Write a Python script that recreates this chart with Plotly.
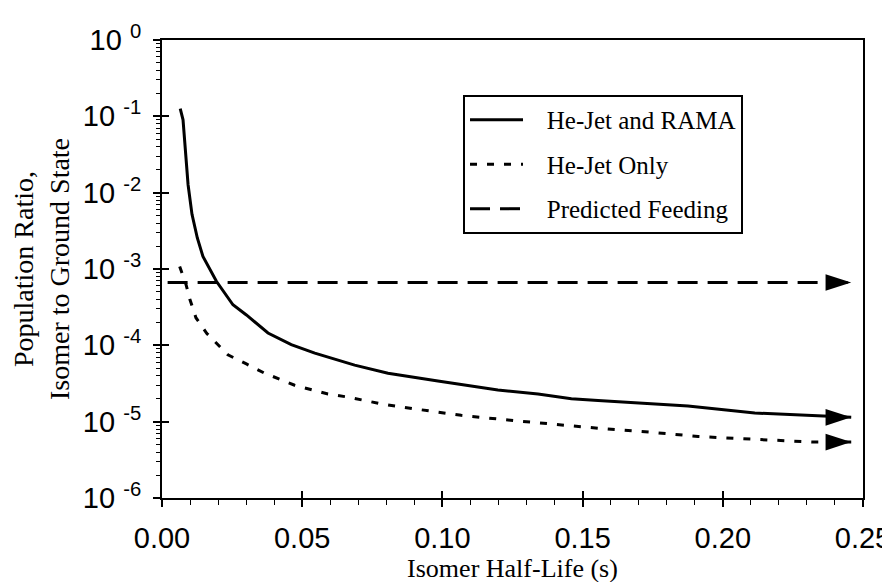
import plotly.graph_objects as go

# ---- data ----
rama_halflife = [0.0065, 0.0075, 0.0093, 0.0107, 0.0126, 0.0146, 0.0194, 0.0253, 0.0301,
                 0.0378, 0.0461, 0.0545, 0.0687, 0.0806, 0.0984, 0.1198, 0.1341, 0.146,
                 0.1555, 0.1876, 0.2114, 0.2375, 0.2458]
rama_ratio = [0.126, 0.090, 0.0127, 5.2e-3, 2.55e-3, 1.46e-3, 6.9e-4, 3.4e-4, 2.5e-4,
              1.45e-4, 1.02e-4, 7.9e-5, 5.5e-5, 4.3e-5, 3.4e-5, 2.6e-5, 2.3e-5, 2.0e-5,
              1.9e-5, 1.6e-5, 1.3e-5, 1.17e-5, 1.14e-5]

jet_halflife = [0.0063, 0.0086, 0.0099, 0.0121, 0.016, 0.020, 0.0235, 0.0301, 0.0364,
                0.0473, 0.0592, 0.0663, 0.0782, 0.0895, 0.1067, 0.1258, 0.1436, 0.1555,
                0.1739, 0.1912, 0.2102, 0.2328, 0.2458]
jet_ratio = [1.08e-3, 6.2e-4, 4.05e-4, 2.3e-4, 1.43e-4, 1.02e-4, 7.5e-5, 5.7e-5, 4.35e-5,
             3.0e-5, 2.3e-5, 2.1e-5, 1.71e-5, 1.48e-5, 1.21e-5, 1.03e-5, 9.0e-6, 8.2e-6,
             7.3e-6, 6.4e-6, 5.9e-6, 5.4e-6, 5.4e-6]

feed_halflife = [0.002, 0.2458]
feed_ratio = [6.65e-4, 6.65e-4]

series_names = ["He-Jet and RAMA", "He-Jet Only", "Predicted Feeding"]

x_tickvals = [0.00, 0.05, 0.10, 0.15, 0.20, 0.25]
x_ticktext = ["0.00", "0.05", "0.10", "0.15", "0.20", "0.25"]
y_tickvals = [1e-6, 1e-5, 1e-4, 1e-3, 1e-2, 1e-1, 1e0]
y_ticktext = ["10 <sup>-6</sup>", "10 <sup>-5</sup>", "10 <sup>-4</sup>", "10 <sup>-3</sup>",
              "10 <sup>-2</sup>", "10 <sup>-1</sup>", "10 <sup>0</sup>"]

x_title = "Isomer Half-Life (s)"
y_title = "Population Ratio,<br>Isomer to Ground State"

# ---- figure ----
fig = go.Figure()
styles = [dict(dash="solid", width=3),
          dict(dash="7px,10px", width=3),
          dict(dash="20px,10px", width=3)]
datasets = [(rama_halflife, rama_ratio), (jet_halflife, jet_ratio), (feed_halflife, feed_ratio)]

lead = "\u00a0\u00a0\u00a0"
for i, ((xs, ys), name, st) in enumerate(zip(datasets, series_names, styles)):
    fig.add_trace(go.Scatter(x=xs, y=ys, mode="lines", name=lead + name,
                             legendgroup=f"g{i}",
                             line=dict(color="black", width=st["width"], dash=st["dash"])))

# arrow heads at the end of each series
for xs, ys in datasets:
    fig.add_trace(go.Scatter(x=[xs[-1]], y=[ys[-1]], mode="markers", showlegend=False,
                             hoverinfo="skip",
                             marker=dict(symbol="arrow", angle=90, size=27, color="black",
                                         line=dict(width=0))))

# invisible trace on overlay axes (inner half of the crossing major ticks)
fig.add_trace(go.Scatter(x=rama_halflife[:1], y=rama_ratio[:1], xaxis="x2", yaxis="y2",
                         mode="markers", marker=dict(size=1, opacity=0),
                         showlegend=False, hoverinfo="skip"))

tick_font = dict(family="Liberation Sans, Arial, sans-serif", size=29, color="black")
serif = "Liberation Serif, Times New Roman, serif"

fig.update_layout(
    width=890, height=582,
    margin=dict(l=154, r=35, t=32, b=92),
    paper_bgcolor="white", plot_bgcolor="white",
    showlegend=True,
    legend=dict(x=0.4294, y=0.88, xanchor="left", yanchor="top",
                bordercolor="black", borderwidth=2, bgcolor="white",
                font=dict(family=serif, size=25, color="black"),
                tracegroupgap=9, itemwidth=53, traceorder="grouped"),
    xaxis=dict(range=[0, 0.25], tickvals=x_tickvals, ticktext=x_ticktext,
               automargin=False,
               ticks="outside", ticklen=7, tickwidth=1.5, tickcolor="black",
               ticklabelstandoff=6,
               showline=True, linecolor="black", linewidth=2, mirror=True,
               showgrid=False, zeroline=False, tickfont=tick_font,
               minor=dict(dtick=0.01, ticks="outside", ticklen=5, tickwidth=1,
                          tickcolor="black", showgrid=False),
               title=dict(text=x_title, font=dict(family=serif, size=26, color="black"),
                          standoff=0)),
    yaxis=dict(type="log", range=[-6, 0], tickvals=y_tickvals, ticktext=y_ticktext,
               automargin=False,
               ticks="outside", ticklen=7, tickwidth=1.5, tickcolor="black",
               ticklabelstandoff=6,
               showline=True, linecolor="black", linewidth=2, mirror=True,
               showgrid=False, zeroline=False, tickfont=tick_font,
               minor=dict(dtick="D1", ticks="outside", ticklen=4, tickwidth=1,
                          tickcolor="black", showgrid=False),
               title=dict(text=y_title, font=dict(family=serif, size=28, color="black"),
                          standoff=8)),
    xaxis2=dict(overlaying="x", anchor="y", side="bottom", range=[0, 0.25],
                tickvals=x_tickvals, ticks="inside", ticklen=7, tickwidth=1.5,
                tickcolor="black", showticklabels=False, showline=False,
                showgrid=False, zeroline=False, automargin=False),
    yaxis2=dict(overlaying="y", anchor="x", side="left", type="log", range=[-6, 0],
                tickvals=y_tickvals, ticks="inside", ticklen=7, tickwidth=1.5,
                tickcolor="black", showticklabels=False, showline=False,
                showgrid=False, zeroline=False, automargin=False),
)

fig.write_html("out.html")
